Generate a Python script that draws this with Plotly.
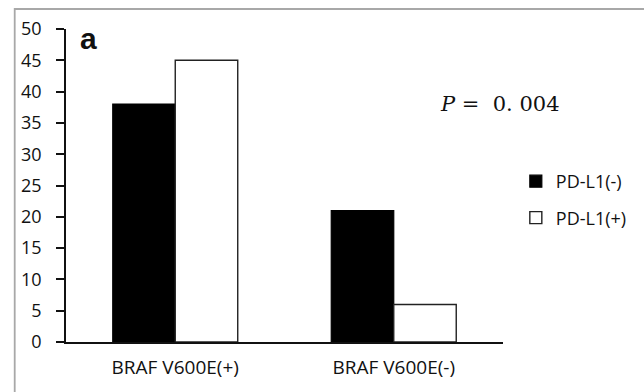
import plotly.graph_objects as go

categories = ["BRAF V600E(+)", "BRAF V600E(-)"]
pdl1_neg = [38, 21]
pdl1_pos = [45, 6]
series_names = ["PD-L1(-)", "PD-L1(+)"]
y_ticks = [0, 5, 10, 15, 20, 25, 30, 35, 40, 45, 50]

W, H = 644, 392
L, R, T, B = 66, 644 - 509, 29, 392 - 342
pw, ph = W - L - R, H - T - B

def px(x):
    return (x - L) / pw

def py(y):
    return (H - B - y) / ph

fig = go.Figure()
fig.add_trace(go.Bar(x=categories, y=pdl1_neg, name=series_names[0],
                     marker=dict(color="black", line=dict(color="black", width=1.2)),
                     legendgroup="a"))
fig.add_trace(go.Bar(x=categories, y=pdl1_pos, name=series_names[1],
                     marker=dict(color="white", line=dict(color="#222", width=1.4)),
                     legendgroup="b"))

fig.update_layout(
    width=W, height=H,
    margin=dict(l=L, r=R, t=T, b=B),
    paper_bgcolor="white", plot_bgcolor="white",
    barmode="group", bargap=0.428, bargroupgap=0,
    font=dict(family="Open Sans", size=18, color="#111"),
    showlegend=True,
    legend=dict(x=px(522), y=py(163), xanchor="left", yanchor="top",
                font=dict(family="Open Sans", size=18, color="#111"),
                bgcolor="rgba(0,0,0,0)", tracegroupgap=10,
                traceorder="grouped", itemwidth=30),
    xaxis=dict(showline=True, linecolor="#111", linewidth=1.5, ticks="",
               showgrid=False, zeroline=False, ticklabelstandoff=7,
               tickfont=dict(family="Open Sans", size=19, color="#111")),
    yaxis=dict(range=[0, 50], tickvals=y_ticks, showline=True, linecolor="#111",
               linewidth=1.5, ticks="outside", ticklen=8, tickwidth=1.5,
               tickcolor="#111", showgrid=False, zeroline=False,
               ticklabelstandoff=11,
               tickfont=dict(family="Open Sans", size=18, color="#111")),
    shapes=[dict(type="rect", xref="paper", yref="paper",
                 x0=px(14), x1=px(660), y0=py(410), y1=py(9),
                 line=dict(color="#a8a8a8", width=1.8), fillcolor="rgba(0,0,0,0)",
                 layer="above")],
    annotations=[
        dict(text="<b>a</b>", xref="paper", yref="paper", x=px(89), y=py(38),
             xanchor="center", yanchor="middle", showarrow=False,
             font=dict(family="Liberation Sans", size=30, color="#111")),
        dict(text="<i>P</i> =  0. 004", xref="paper", yref="paper", x=px(506), y=py(104),
             xanchor="center", yanchor="middle", showarrow=False,
             font=dict(family="DejaVu Serif", size=21, color="#111")),
    ],
)

fig.write_html("out.html", config={"displayModeBar": False})

# remove the browser's default 8px body margin so the figure sits at the page origin
with open("out.html", encoding="utf-8") as f:
    html = f.read()
html = html.replace("<head>", "<head><style>html,body{margin:0;padding:0;overflow:hidden;}</style>", 1)
with open("out.html", "w", encoding="utf-8") as f:
    f.write(html)
